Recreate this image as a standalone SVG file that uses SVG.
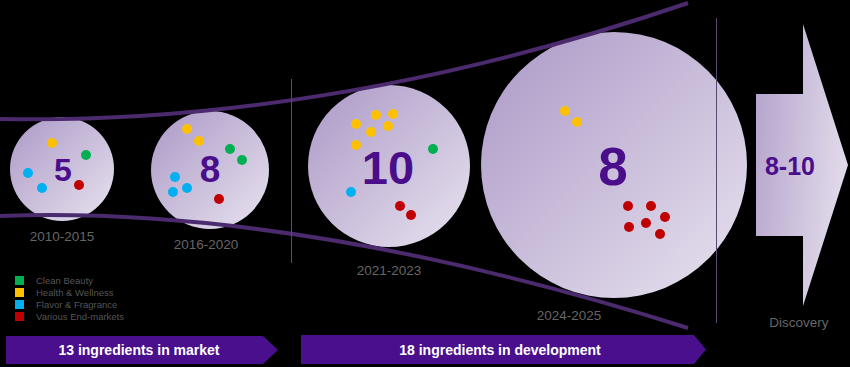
<svg xmlns="http://www.w3.org/2000/svg" width="850" height="367" viewBox="0 0 850 367">
<defs>
<linearGradient id="cg" x1="0" y1="0" x2="1" y2="1">
<stop offset="0" stop-color="#ab98c6"/>
<stop offset="1" stop-color="#e8e3ef"/>
</linearGradient>
<linearGradient id="ag" x1="0" y1="0" x2="1" y2="0.3">
<stop offset="0" stop-color="#b3a1cb"/>
<stop offset="1" stop-color="#e0d9e9"/>
</linearGradient>
<style>
.bub{fill:url(#cg)}
.num{font-family:"Liberation Sans",Arial,sans-serif;font-weight:bold;fill:#4a0e8a;text-anchor:middle}
.yr{font-family:"Liberation Sans",Arial,sans-serif;font-size:13.5px;fill:#666;text-anchor:middle}
.lg{font-family:"Liberation Sans",Arial,sans-serif;font-size:9.5px;fill:#555}
.bn{font-family:"Liberation Sans",Arial,sans-serif;font-size:14px;font-weight:bold;fill:#fff;text-anchor:middle}
.y{fill:#ffc000}.g{fill:#00b050}.b{fill:#00b0f0}.r{fill:#c00000}
.curve{fill:none;stroke:#4b2a6e;stroke-width:4}
.vl{stroke:#5b4a70;stroke-width:1}
.ban{fill:#4a0f8c}
</style>
</defs>
<rect width="850" height="367" fill="#000"/>

<g id="node-2010">
<circle class="bub" cx="62" cy="169" r="52"/>
<text class="num" x="63" y="181" font-size="32">5</text>
<circle class="y" cx="52" cy="143" r="5"/>
<circle class="g" cx="86" cy="155" r="5"/>
<circle class="b" cx="28" cy="173" r="5"/>
<circle class="b" cx="42" cy="188" r="5"/>
<circle class="r" cx="79" cy="185" r="5"/>
<text class="yr" x="62" y="241">2010-2015</text>
</g>

<g id="node-2016">
<circle class="bub" cx="210" cy="170" r="59"/>
<text class="num" x="210" y="182" font-size="37">8</text>
<circle class="y" cx="187" cy="129" r="5"/>
<circle class="y" cx="199" cy="141" r="5"/>
<circle class="g" cx="230" cy="149" r="5"/>
<circle class="g" cx="242" cy="160" r="5"/>
<circle class="b" cx="175" cy="177" r="5"/>
<circle class="b" cx="173" cy="192" r="5"/>
<circle class="b" cx="187" cy="188" r="5"/>
<circle class="r" cx="219" cy="199" r="5"/>
<text class="yr" x="206" y="249">2016-2020</text>
</g>

<g id="node-2021">
<circle class="bub" cx="389" cy="166" r="81"/>
<text class="num" x="388" y="184" font-size="47">10</text>
<circle class="y" cx="356" cy="124" r="5"/>
<circle class="y" cx="376" cy="115" r="5"/>
<circle class="y" cx="393" cy="114" r="5"/>
<circle class="y" cx="371" cy="132" r="5"/>
<circle class="y" cx="388" cy="126" r="5"/>
<circle class="y" cx="356" cy="145" r="5"/>
<circle class="g" cx="433" cy="149" r="5"/>
<circle class="b" cx="351" cy="192" r="5"/>
<circle class="r" cx="400" cy="206" r="5"/>
<circle class="r" cx="411" cy="215" r="5"/>
<text class="yr" x="389" y="275">2021-2023</text>
</g>

<g id="node-2024">
<circle class="bub" cx="614" cy="165" r="133"/>
<text class="num" x="613" y="185" font-size="53">8</text>
<circle class="y" cx="565" cy="111" r="5"/>
<circle class="y" cx="577" cy="122" r="5"/>
<circle class="r" cx="628" cy="206" r="5"/>
<circle class="r" cx="651" cy="206" r="5"/>
<circle class="r" cx="665" cy="217" r="5"/>
<circle class="r" cx="629" cy="227" r="5"/>
<circle class="r" cx="646" cy="223" r="5"/>
<circle class="r" cx="660" cy="234" r="5"/>
<text class="yr" x="569" y="320">2024-2025</text>
</g>

<g id="node-discovery">
<path d="M756,94 H803 V24 L848,165 L803,306 V236 H756 Z" fill="url(#ag)"/>
<text class="num" x="790" y="175" font-size="25">8-10</text>
<text class="yr" x="799" y="327">Discovery</text>
</g>

<g id="connectors">
<path class="curve" d="M0,119 Q330,125 688,3"/>
<path class="curve" d="M0,216 Q300,205 688,328"/>
<line class="vl" x1="291.5" y1="79" x2="291.5" y2="263"/>
<line class="vl" x1="716.5" y1="18" x2="716.5" y2="323"/>
</g>

<g id="legend">
<rect class="g" x="15" y="276" width="9" height="9"/>
<rect class="y" x="15" y="288" width="9" height="9"/>
<rect class="b" x="15" y="300" width="9" height="9"/>
<rect class="r" x="15" y="312" width="9" height="9"/>
<text class="lg" x="36" y="284">Clean Beauty</text>
<text class="lg" x="36" y="296">Health &amp; Wellness</text>
<text class="lg" x="36" y="308">Flavor &amp; Fragrance</text>
<text class="lg" x="36" y="320">Various End-markets</text>
</g>

<g id="banner-market">
<path class="ban" d="M6,336 H263 L278,350 L263,364 H6 Z"/>
<text class="bn" x="139" y="355">13 ingredients in market</text>
</g>

<g id="banner-development">
<path class="ban" d="M301,335 H694 L706,349.5 L694,364 H301 Z"/>
<text class="bn" x="500" y="355">18 ingredients in development</text>
</g>
</svg>
